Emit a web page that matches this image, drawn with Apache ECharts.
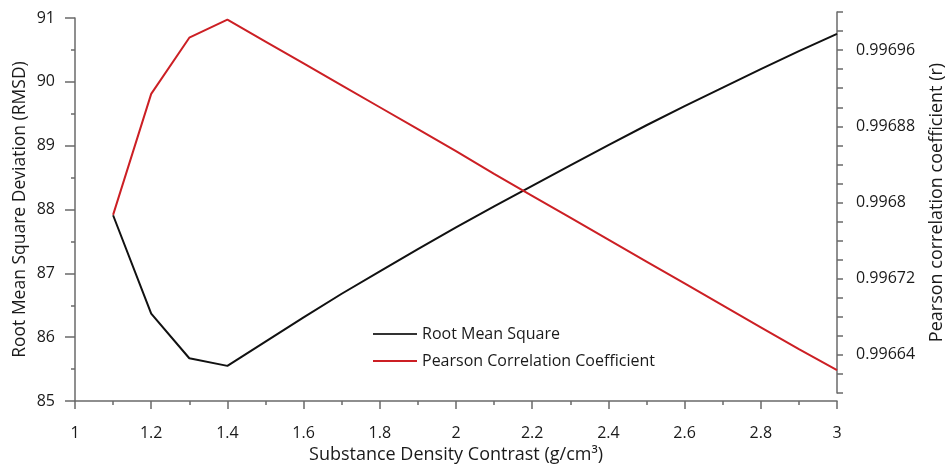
<!DOCTYPE html>
<html>
<head>
<meta charset="utf-8">
<script src="https://cdn.jsdelivr.net/npm/echarts@6/dist/echarts.min.js"></script>
<style>
  html, body { margin: 0; padding: 0; background: #fff; }
  #chart { width: 945px; height: 466px; }
</style>
</head>
<body>
<div id="chart"></div>
<script>
// Density contrast values (g/cm3)
const densityContrast = [1.1, 1.2, 1.3, 1.4, 1.5, 1.6, 1.7, 1.8, 1.9, 2.0,
                         2.1, 2.2, 2.3, 2.4, 2.5, 2.6, 2.7, 2.8, 2.9, 3.0];
// Root mean square deviation at each density contrast
const rmsd = [87.91, 86.37, 85.67, 85.55, 85.93, 86.31, 86.68, 87.03, 87.38, 87.72,
              88.05, 88.37, 88.69, 89.01, 89.32, 89.62, 89.91, 90.20, 90.48, 90.75];
// Pearson correlation coefficient at each density contrast
const pearsonR = [0.996787, 0.996914, 0.996973, 0.996992, 0.996969, 0.996946, 0.996923,
                  0.996900, 0.996877, 0.996854, 0.996830, 0.996807, 0.996784, 0.996761,
                  0.996738, 0.996715, 0.996692, 0.996669, 0.996646, 0.996624];

const seriesNames = ['Root Mean Square', 'Pearson Correlation Coefficient'];

const FONT = '"Open Sans", "Noto Sans", sans-serif';
const AXIS_GREY = '#6a6a6a';
const TEXT = '#1a1a1a';

const chart = echarts.init(document.getElementById('chart'), null, { renderer: 'canvas' });

const axisLineStyle = { show: true, lineStyle: { color: AXIS_GREY, width: 1.5 } };

chart.setOption({
  animation: false,
  backgroundColor: '#fff',
  grid: [
    { left: 75, right: 108, top: 18, bottom: 65, containLabel: false, outerBoundsMode: 'none' },
    { left: 75, right: 108, top: 12, bottom: 73, containLabel: false, outerBoundsMode: 'none' }
  ],
  legend: {
    orient: 'vertical',
    left: 368,
    top: 321,
    itemWidth: 44,
    itemHeight: 2,
    itemGap: 11,
    icon: 'rect',
    textStyle: { fontFamily: FONT, fontSize: 16, color: TEXT },
    data: [
      { name: seriesNames[0], itemStyle: { color: '#333' } },
      { name: seriesNames[1], itemStyle: { color: '#cc1f24' } }
    ]
  },
  xAxis: [
    {
      gridIndex: 0,
      type: 'value',
      min: 1, max: 3, interval: 0.2,
      name: 'Substance Density Contrast (g/cm³)',
      nameLocation: 'middle',
      nameGap: 45,
      nameTextStyle: { fontFamily: FONT, fontSize: 18, color: TEXT },
      axisLine: axisLineStyle,
      axisTick: { show: true, inside: false, length: 8, lineStyle: { color: AXIS_GREY, width: 1.5 } },
      minorTick: { show: true, splitNumber: 2, length: 4, lineStyle: { color: AXIS_GREY, width: 1.5 } },
      axisLabel: { fontFamily: FONT, fontSize: 16, color: TEXT, margin: 24,
                   formatter: v => String(parseFloat(v.toFixed(2))) },
      splitLine: { show: false }
    },
    {
      gridIndex: 1,
      type: 'value',
      min: 1, max: 3, interval: 0.2,
      show: false
    }
  ],
  yAxis: [
    {
      gridIndex: 0,
      type: 'value',
      position: 'left',
      min: 85, max: 91, interval: 1,
      name: 'Root Mean Square Deviation (RMSD)',
      nameLocation: 'middle',
      nameRotate: 90,
      nameGap: 46,
      nameMoveOverlap: false,
      nameTextStyle: { fontFamily: FONT, fontSize: 17.5, color: TEXT },
      axisLine: axisLineStyle,
      axisTick: { show: true, inside: false, length: 10, lineStyle: { color: AXIS_GREY, width: 1.5 } },
      minorTick: { show: true, splitNumber: 2, length: 4, lineStyle: { color: AXIS_GREY, width: 1.5 } },
      axisLabel: { fontFamily: FONT, fontSize: 16, color: TEXT, margin: 20 },
      splitLine: { show: false }
    },
    {
      gridIndex: 1,
      type: 'value',
      position: 'right',
      min: 0.9966, max: 0.997, interval: 0.00002,
      name: 'Pearson correlation coefficient (r)',
      nameLocation: 'middle',
      nameRotate: 90,
      nameGap: 91,
      nameMoveOverlap: false,
      nameTextStyle: { fontFamily: FONT, fontSize: 18, color: TEXT },
      axisLine: axisLineStyle,
      axisTick: { show: true, inside: false, length: 6, lineStyle: { color: AXIS_GREY, width: 1.5 } },
      axisLabel: {
        fontFamily: FONT, fontSize: 16, color: TEXT, margin: 19,
        showMinLabel: true, showMaxLabel: true, hideOverlap: false,
        // label every fourth tick, starting at 0.99664
        formatter: v => {
          const k = Math.round((v - 0.9966) / 0.00002);
          return (k % 4 === 2) ? String(parseFloat(v.toFixed(5))) : '';
        }
      },
      splitLine: { show: false }
    }
  ],
  series: [
    {
      name: seriesNames[0],
      type: 'line',
      xAxisIndex: 0, yAxisIndex: 0,
      symbol: 'none',
      lineStyle: { color: '#111', width: 2 },
      itemStyle: { color: '#111' },
      data: densityContrast.map((x, i) => [x, rmsd[i]]),
      z: 2
    },
    {
      name: seriesNames[1],
      type: 'line',
      xAxisIndex: 1, yAxisIndex: 1,
      symbol: 'none',
      lineStyle: { color: '#cc1f24', width: 2 },
      itemStyle: { color: '#cc1f24' },
      data: densityContrast.map((x, i) => [x, pearsonR[i]]),
      z: 3
    }
  ]
});
</script>
</body>
</html>
